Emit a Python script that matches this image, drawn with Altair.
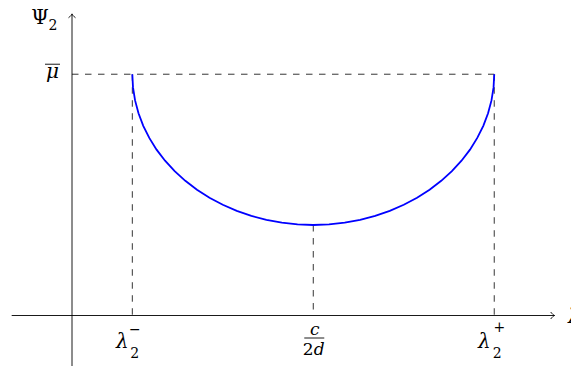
import altair as alt
import pandas as pd

# ---------------- data (picture units) ----------------
x_axis_ext = [-1.6, 12.8]      # horizontal axis: start, arrow tip
y_axis_ext = [-1.6, 8.0]       # vertical axis: start, arrow tip
lam_minus = 1.6                # lambda_2^-
lam_mid = 6.4                  # c / 2d
lam_plus = 11.2                # lambda_2^+
mu_bar = 6.4                   # level of mu-bar
psi_min = 2.4                  # minimum of the curve

curve_x = [1.600, 1.618, 1.673, 1.764, 1.890, 2.050, 2.243, 2.468, 2.723, 3.006,
           3.315, 3.647, 4.000, 4.371, 4.758, 5.158, 5.566, 5.982, 6.400, 6.818,
           7.234, 7.642, 8.042, 8.429, 8.800, 9.153, 9.485, 9.794, 10.077, 10.332,
           10.557, 10.750, 10.910, 11.036, 11.127, 11.182, 11.200]
curve_y = [6.400, 6.051, 5.705, 5.365, 5.032, 4.710, 4.400, 4.106, 3.829, 3.572,
           3.336, 3.123, 2.936, 2.775, 2.641, 2.536, 2.461, 2.415, 2.400, 2.415,
           2.461, 2.536, 2.641, 2.775, 2.936, 3.123, 3.336, 3.572, 3.829, 4.106,
           4.400, 4.710, 5.032, 5.365, 5.705, 6.051, 6.400]

# ---------------- layout ----------------
W, H = 563, 358
PX = 37.7               # pixels per unit
OX, OY = 64, 307.5      # origin inside the plot area (px)
xdom = [-OX / PX, (W - OX) / PX]
ydom = [-(H - OY) / PX, OY / PX]
xs = alt.Scale(domain=xdom, nice=False, zero=False)
ys = alt.Scale(domain=ydom, nice=False, zero=False)
FONT = "DejaVu Serif"


def X(f):
    return alt.X(f, type="quantitative", scale=xs, axis=None)


def Y(f):
    return alt.Y(f, type="quantitative", scale=ys, axis=None)


layers = []

# axes
axes_df = pd.DataFrame({"x": [x_axis_ext[0], 0], "y": [0, y_axis_ext[0]],
                        "x2": [x_axis_ext[1], 0], "y2": [0, y_axis_ext[1]]})
layers.append(alt.Chart(axes_df).mark_rule(color="black", strokeWidth=0.9).encode(
    x=X("x"), y=Y("y"), x2="x2", y2="y2"))

# arrow heads
arrow_df = pd.DataFrame({"x": [x_axis_ext[1], 0], "y": [0, y_axis_ext[1]], "a": [0, 270]})
arrow_path = "M -1.1 -1 C -0.7 -0.45, -0.3 -0.12, 0 0 C -0.3 0.12, -0.7 0.45, -1.1 1"
layers.append(alt.Chart(arrow_df).mark_point(
    shape=arrow_path, filled=False, stroke="black", strokeWidth=0.9, size=49, opacity=1
).encode(x=X("x"), y=Y("y"), angle=alt.Angle("a:Q", scale=None)))

# dashed guides
dash_df = pd.DataFrame({
    "x": [0, lam_minus, lam_plus, lam_mid],
    "y": [mu_bar, mu_bar, mu_bar, psi_min],
    "x2": [lam_plus, lam_minus, lam_plus, lam_mid],
    "y2": [mu_bar, 0, 0, 0],
})
layers.append(alt.Chart(dash_df).mark_rule(
    color="black", strokeWidth=0.8, strokeDash=[6.5, 6.5]
).encode(x=X("x"), y=Y("y"), x2="x2", y2="y2"))

# blue curve
curve_df = pd.DataFrame({"x": curve_x, "y": curve_y, "i": list(range(len(curve_x)))})
layers.append(alt.Chart(curve_df).mark_line(color="#0000ff", strokeWidth=1.8).encode(
    x=X("x"), y=Y("y"), order="i:Q"))

# short strokes: overline of mu and the fraction bar (anchor, px from-to, px above)
strokes = [
    (0, mu_bar, -27, -12, 10),
    (lam_mid, 0, -9, 11, -22.5),
]
st_df = pd.DataFrame({
    "x": [a + p0 / PX for a, b, p0, p1, up in strokes],
    "x2": [a + p1 / PX for a, b, p0, p1, up in strokes],
    "y": [b + up / PX for a, b, p0, p1, up in strokes],
})
layers.append(alt.Chart(st_df).mark_rule(color="black", strokeWidth=0.9).encode(
    x=X("x"), x2="x2", y=Y("y")))

# labels: (text, anchor x, anchor y, dx, dy, size, style, align)
labels = [
    ("Ψ", 0, y_axis_ext[1], -32, 10, 20, "normal", "center"),
    ("2", 0, y_axis_ext[1], -19, 16, 14, "normal", "center"),
    ("μ", 0, mu_bar, -19.5, 4, 20, "italic", "center"),
    ("λ", lam_minus, 0, -10, 32.5, 20, "italic", "center"),
    ("2", lam_minus, 0, 2.5, 42.5, 14, "normal", "center"),
    ("−", lam_minus, 0, 2.5, 18.5, 14, "normal", "center"),
    ("c", lam_mid, 0, 1.5, 19.5, 17, "italic", "center"),
    ("2", lam_mid, 0, -5, 39.5, 17, "normal", "center"),
    ("d", lam_mid, 0, 6, 39.5, 17, "italic", "center"),
    ("λ", lam_plus, 0, -10, 32.5, 20, "italic", "center"),
    ("2", lam_plus, 0, 3, 42.5, 14, "normal", "center"),
    ("+", lam_plus, 0, 5, 16.5, 14, "normal", "center"),
    ("λ", x_axis_ext[1], 0, 13.5, 7.5, 20, "italic", "left"),
]
for t, ax, ay, dx, dy, sz, st, al in labels:
    df = pd.DataFrame({"x": [ax], "y": [ay], "t": [t]})
    layers.append(alt.Chart(df).mark_text(
        font=FONT, fontSize=sz, fontStyle=st, align=al, baseline="alphabetic",
        dx=dx, dy=dy, color="black"
    ).encode(x=X("x"), y=Y("y"), text="t:N"))

chart = alt.layer(*layers).properties(
    width=W, height=H, padding=0, autosize=alt.AutoSizeParams(type="none")
).configure_view(strokeWidth=0)

chart.save("out.html", embed_options={"renderer": "svg", "actions": False})
